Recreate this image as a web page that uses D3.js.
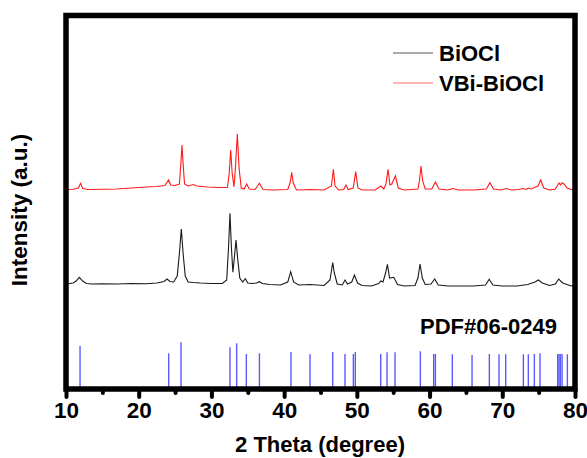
<!DOCTYPE html>
<html><head><meta charset="utf-8">
<script src="https://cdn.jsdelivr.net/npm/d3@7"></script>
<style>
body{margin:0;background:#fff;}
svg{display:block;font-family:"Liberation Sans",Arial,sans-serif;}
</style></head>
<body><svg id="c" width="587" height="458"></svg>
<script>
// ---- data ----
const xTicks = [10,20,30,40,50,60,70,80];
const xMinorTicks = [15,25,35,45,55,65,75];
const seriesNames = ["BiOCl","VBi-BiOCl"];
const pdfLabel = "PDF#06-0249";

// BiOCl pattern: [2theta, intensity (a.u., offset stack)]
const bioclPattern = [
[10.0,104],[10.5,104.5],[11.0,105],[11.4,107],[11.83,110.7],[12.3,107],[12.8,104.5],[13.5,104],
[15,104.3],[17,104],[19,104.5],[21,104.3],[22.5,105],[23.5,106.5],[23.9,109],[24.3,106.5],[24.8,106],
[25.3,112],[25.6,135],[25.86,159],[26.1,135],[26.4,112],[26.8,106],[27.5,105.5],[28.5,105],[30,104.5],
[31.5,104.5],[32.1,108],[32.35,140],[32.55,174.7],[32.75,140],[32.95,115.7],[33.15,130],[33.38,148],
[33.6,130],[33.9,110],[34.3,106],[34.66,109.3],[35.0,105],[35.6,104.5],[36.2,105],[36.6,106.3],[37.0,104.5],
[38,103.5],[39.5,103],[40.5,106],[40.9,116.3],[41.3,106],[42,103],[43.56,103.5],[45.5,102.5],[46.3,108],
[46.5,117],[46.68,125.3],[46.9,115],[47.3,104],[48.0,103],[48.37,108],[48.7,104],[49.3,106],[49.66,113],
[50.1,105],[50.7,102.5],[52,102],[53.0,104.5],[53.3,107],[53.6,106],[53.95,115],[54.2,123.7],[54.5,110],
[55.07,110.7],[55.6,103.5],[56.5,102],[58,102.5],[58.4,110],[58.69,124],[59.0,110],[59.4,103.5],[60.2,104],
[60.7,109],[61.2,103],[62.5,102],[64,102],[66,102],[67.7,103],[68.2,108.7],[68.7,103],[70,102],[72,102],
[73.5,103.5],[74.5,106],[74.96,108],[75.5,105],[76.5,102.5],[77.3,104],[77.76,109],[78.3,105],[78.9,103.5],
[79.5,102],[80,102]
];

// VBi-BiOCl pattern
const vbiPattern = [
[10.0,198.5],[11.0,198.8],[11.7,200],[12.0,204.7],[12.3,199.5],[13,198.5],[15,198.7],[17,199],[19,200],
[21,201],[22.5,201.5],[23.6,202.5],[24.1,208],[24.4,203],[25.0,202.5],[25.6,204],[25.8,225],[25.95,243],
[26.1,225],[26.3,204],[26.8,202],[27.5,203.5],[28,202],[29.5,201],[31,200.5],[32.2,200.5],[32.45,215],
[32.65,238],[32.85,215],[33.1,201],[33.3,220],[33.56,254],[33.8,220],[34.1,200],[34.5,199],[34.85,204],
[35.2,199],[36.0,198.5],[36.6,204.7],[37.1,198.5],[38.5,198],[40.5,198.5],[40.85,206],[41.04,215.7],
[41.25,205],[41.7,198],[43.5,198.5],[45.5,198],[46.5,202],[46.77,218.7],[47.0,202],[47.5,198],[48.2,198.5],
[48.5,203],[48.8,198.5],[49.5,200],[49.84,216.3],[50.15,200],[50.7,198],[52.5,198],[53.3,202],[53.7,199],
[54.0,204],[54.29,218.7],[54.55,203],[54.8,204],[55.3,212],[55.7,200],[56.5,198],[58.4,199],[58.62,208],
[58.82,222],[59.05,207],[59.4,199],[60.3,199],[60.8,206],[61.3,199],[62.5,198],[63.2,199.5],[64,198],
[66,198],[67.8,199],[68.3,205.3],[68.8,199],[69.8,198],[70.5,199.5],[71.3,198],[72.2,198.5],[72.9,199.5],
[73.3,198.5],[73.6,200],[74.0,199],[74.4,200.5],[74.9,202],[75.28,208],[75.7,200],[76.5,198],[77.3,199],
[77.8,205],[78.0,203],[78.2,205.3],[78.5,204],[78.9,200],[79.5,198.5],[79.8,198],[80,199]
];

// Reference card PDF#06-0249 stick positions and heights
const pdfPositions = [11.93,24.12,25.82,32.55,33.47,34.8,36.6,40.94,43.56,46.68,48.37,49.52,49.79,53.28,
54.15,55.25,58.73,60.57,60.8,63.13,65.84,68.22,69.55,70.47,72.9,73.58,74.41,75.19,77.62,77.8,77.98,78.22,78.95];
const pdfHeights = [42,34.7,45.7,40.7,44.7,34,34.7,36,33.7,36,34,34,36,34,35.7,35.7,36.7,34,34,33.7,33,34,
33.7,33.7,33.7,33.7,34,34.7,34,34,34,34,33.7];

// ---- drawing ----
const svg = d3.select("#c");
const x = d3.scaleLinear().domain([10,80]).range([66,575]);
const y = d3.scaleLinear().domain([0,373]).range([388,15]);

// PDF sticks
svg.append("g").selectAll("line").data(pdfPositions).join("line")
  .attr("x1",d=>x(d)).attr("x2",d=>x(d))
  .attr("y1",y(0)).attr("y2",(d,i)=>y(pdfHeights[i]))
  .attr("stroke","#5a5aff").attr("stroke-width",1.4);

const line = d3.line().x(d=>x(d[0])).y(d=>y(d[1]));
svg.append("path").datum(bioclPattern).attr("d",line)
  .attr("fill","none").attr("stroke","#1a1a1a").attr("stroke-width",1.1);
svg.append("path").datum(vbiPattern).attr("d",line)
  .attr("fill","none").attr("stroke","#ff1a1a").attr("stroke-width",1.1);

// frame
svg.append("rect").attr("x",66).attr("y",15.5).attr("width",509).attr("height",373.5)
  .attr("fill","none").attr("stroke","#000").attr("stroke-width",5.5);

// axes
const ax = svg.append("g").attr("transform","translate(0,389)")
  .call(d3.axisBottom(x).tickValues(xTicks).tickSize(8).tickPadding(5).tickFormat(d3.format("d")));
ax.select(".domain").remove();
ax.selectAll(".tick line").attr("stroke","#000").attr("stroke-width",4).attr("stroke-linecap","round");
ax.selectAll(".tick text").attr("font-size",22.5).attr("font-weight","bold").attr("fill","#000")
  .attr("font-family","'Liberation Sans',Arial,sans-serif");
const axm = svg.append("g").attr("transform","translate(0,389)")
  .call(d3.axisBottom(x).tickValues(xMinorTicks).tickSize(4).tickFormat(""));
axm.select(".domain").remove();
axm.selectAll(".tick line").attr("stroke","#000").attr("stroke-width",4).attr("stroke-linecap","round");

// titles
svg.append("text").attr("x",320).attr("y",452).attr("text-anchor","middle")
  .attr("font-size",22).attr("font-weight","bold").text("2 Theta (degree)");
svg.append("text").attr("transform","translate(27,210) rotate(-90)").attr("text-anchor","middle")
  .attr("font-size",22.5).attr("font-weight","bold").text("Intensity (a.u.)");

// PDF label
svg.append("text").attr("x",557).attr("y",334).attr("text-anchor","end")
  .attr("font-size",22).attr("font-weight","bold").text(pdfLabel);

// legend
const legColors = ["#555","#ff6a6a"];
const leg = svg.append("g");
seriesNames.forEach((n,i)=>{
  const yy = 53 + i*30;
  leg.append("line").attr("x1",393).attr("x2",433).attr("y1",yy).attr("y2",yy)
    .attr("stroke",legColors[i]).attr("stroke-width",1);
  leg.append("text").attr("x",439).attr("y",yy+8).attr("font-size",22).attr("font-weight","bold").text(n);
});
</script></body></html>
